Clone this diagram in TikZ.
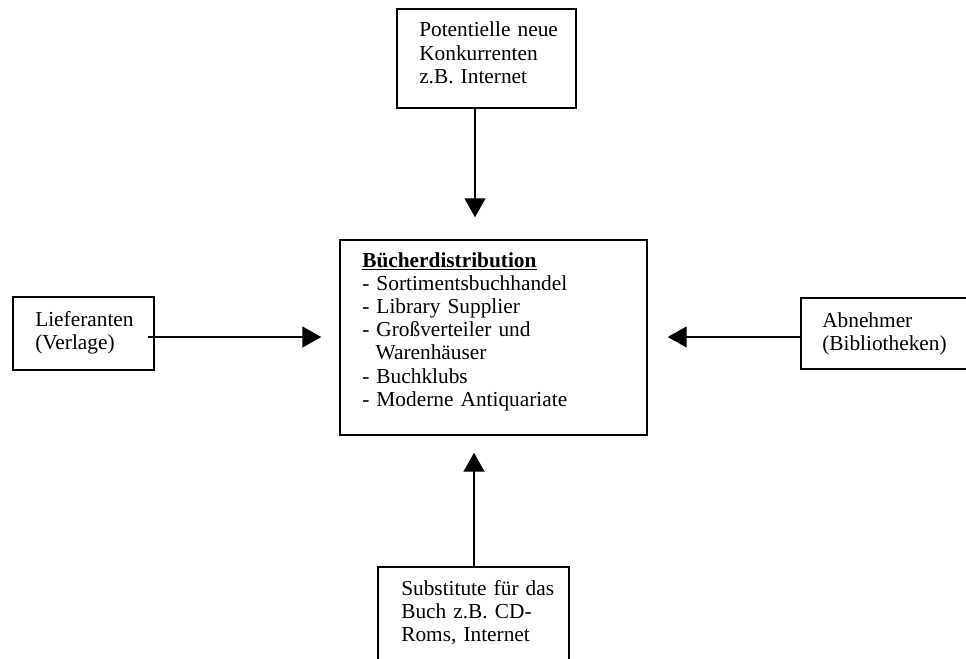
\documentclass[tikz,border=0pt]{standalone}
\usepackage{fontspec}
\setmainfont{Liberation Serif}
\usetikzlibrary{arrows.meta}
\begin{document}
\begin{tikzpicture}[x=0.75pt,y=-0.75pt,
  box/.style={draw=black,line width=1.1pt,rectangle,inner sep=0pt,fill=none},
  txt/.style={inner sep=0pt,anchor=base west,text width=220pt,align=left,
    font=\fontsize{16pt}{17.4pt}\selectfont},
  arr/.style={line width=1.1pt,-{Triangle[width=15.75pt,length=14.25pt]}}]
\useasboundingbox (0,0) rectangle (966,659);
\clip (0,0) rectangle (966,659);
% boxes
\node[box,minimum width=134.25pt,minimum height=74.25pt] (tb) at (486.5,58.5) {};
\node[box,minimum width=230.25pt,minimum height=146.25pt] (cb) at (493.5,337.5) {};
\node[box,minimum width=105.75pt,minimum height=54.75pt] (lb) at (83.5,333.5) {};
\node[box,minimum width=141.75pt,minimum height=53.25pt] (rb) at (895.5,333.5) {};
\node[box,minimum width=143.25pt,minimum height=84.75pt] (bb) at (473.5,623.5) {};
% texts
\node[txt] (tt) at (419,37) {Potentielle neue\\Konkurrenten\\z.B. Internet};
\node[txt] (ct) at (362,267) {\underline{\textbf{Bücherdistribution}}\\- Sortimentsbuchhandel\\- Library Supplier\\- Großverteiler und\\\hspace*{10pt}Warenhäuser\\- Buchklubs\\- Moderne Antiquariate};
\node[txt] (lt) at (35,326) {Lieferanten\\(Verlage)};
\node[txt] (rt) at (822,327) {Abnehmer\\(Bibliotheken)};
\node[txt] (bt) at (401,595) {Substitute für das\\Buch z.B. CD-\\Roms, Internet};
% arrows
\draw[arr] ([shift={(-11.5,-2)}]tb.south) -- ([shift={(-18.5,-22)}]cb.north);
\draw[arr] ([shift={(-7,3.5)}]lb.east) -- ([shift={(-18,-0.5)}]cb.west);
\draw[arr] ([shift={(0,3.5)}]rb.west) -- ([shift={(20,-0.5)}]cb.east);
\draw[arr] ([shift={(0.5,0)}]bb.north) -- ([shift={(-19.5,17)}]cb.south);
\end{tikzpicture}
\end{document}
